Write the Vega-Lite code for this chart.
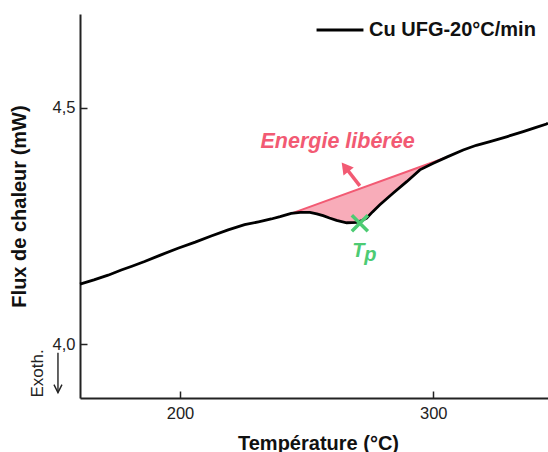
{
  "$schema": "https://vega.github.io/schema/vega-lite/v6.json",
  "autosize": {"type": "none"},
  "padding": {"left": 80, "top": 14, "right": 0, "bottom": 54},
  "width": 468,
  "height": 384,
  "config": {
    "font": "Liberation Sans",
    "view": {"stroke": null},
    "axis": {"grid": false, "domainColor": "#222", "domainWidth": 2, "tickColor": "#222", "tickWidth": 1.5, "labelColor": "#222", "titleColor": "#111"}
  },
  "datasets": {
    "curve": [
      {"T": 160.5, "Q": 4.127, "serie": "Cu UFG-20°C/min"},
      {"T": 166, "Q": 4.136, "serie": "Cu UFG-20°C/min"},
      {"T": 171.6, "Q": 4.146, "serie": "Cu UFG-20°C/min"},
      {"T": 176.8, "Q": 4.157, "serie": "Cu UFG-20°C/min"},
      {"T": 181, "Q": 4.165, "serie": "Cu UFG-20°C/min"},
      {"T": 186, "Q": 4.175, "serie": "Cu UFG-20°C/min"},
      {"T": 192, "Q": 4.188, "serie": "Cu UFG-20°C/min"},
      {"T": 199.2, "Q": 4.203, "serie": "Cu UFG-20°C/min"},
      {"T": 206, "Q": 4.216, "serie": "Cu UFG-20°C/min"},
      {"T": 212.3, "Q": 4.229, "serie": "Cu UFG-20°C/min"},
      {"T": 219, "Q": 4.242, "serie": "Cu UFG-20°C/min"},
      {"T": 225.5, "Q": 4.253, "serie": "Cu UFG-20°C/min"},
      {"T": 231, "Q": 4.259, "serie": "Cu UFG-20°C/min"},
      {"T": 236, "Q": 4.265, "serie": "Cu UFG-20°C/min"},
      {"T": 239.5, "Q": 4.27, "serie": "Cu UFG-20°C/min"},
      {"T": 243.9, "Q": 4.277, "serie": "Cu UFG-20°C/min"},
      {"T": 247.5, "Q": 4.279, "serie": "Cu UFG-20°C/min"},
      {"T": 251.3, "Q": 4.279, "serie": "Cu UFG-20°C/min"},
      {"T": 254, "Q": 4.276, "serie": "Cu UFG-20°C/min"},
      {"T": 256.5, "Q": 4.272, "serie": "Cu UFG-20°C/min"},
      {"T": 259, "Q": 4.267, "serie": "Cu UFG-20°C/min"},
      {"T": 261.8, "Q": 4.262, "serie": "Cu UFG-20°C/min"},
      {"T": 265.8, "Q": 4.257, "serie": "Cu UFG-20°C/min"},
      {"T": 269.7, "Q": 4.258, "serie": "Cu UFG-20°C/min"},
      {"T": 271.5, "Q": 4.261, "serie": "Cu UFG-20°C/min"},
      {"T": 273.7, "Q": 4.267, "serie": "Cu UFG-20°C/min"},
      {"T": 276, "Q": 4.28, "serie": "Cu UFG-20°C/min"},
      {"T": 278.9, "Q": 4.295, "serie": "Cu UFG-20°C/min"},
      {"T": 284.2, "Q": 4.32, "serie": "Cu UFG-20°C/min"},
      {"T": 289.5, "Q": 4.344, "serie": "Cu UFG-20°C/min"},
      {"T": 294.7, "Q": 4.369, "serie": "Cu UFG-20°C/min"},
      {"T": 300, "Q": 4.383, "serie": "Cu UFG-20°C/min"},
      {"T": 305.3, "Q": 4.396, "serie": "Cu UFG-20°C/min"},
      {"T": 311.8, "Q": 4.411, "serie": "Cu UFG-20°C/min"},
      {"T": 317, "Q": 4.421, "serie": "Cu UFG-20°C/min"},
      {"T": 322.4, "Q": 4.429, "serie": "Cu UFG-20°C/min"},
      {"T": 328.9, "Q": 4.439, "serie": "Cu UFG-20°C/min"},
      {"T": 335.5, "Q": 4.45, "serie": "Cu UFG-20°C/min"},
      {"T": 340, "Q": 4.458, "serie": "Cu UFG-20°C/min"},
      {"T": 344.7, "Q": 4.466, "serie": "Cu UFG-20°C/min"},
      {"T": 345.3, "Q": 4.468, "serie": "Cu UFG-20°C/min"}
    ],
    "zone": [
      {"T": 244.1, "Q": 4.277, "base": 4.277},
      {"T": 247.5, "Q": 4.279, "base": 4.2836},
      {"T": 251.3, "Q": 4.279, "base": 4.291},
      {"T": 254, "Q": 4.276, "base": 4.2962},
      {"T": 256.5, "Q": 4.272, "base": 4.301},
      {"T": 259, "Q": 4.267, "base": 4.3059},
      {"T": 261.8, "Q": 4.262, "base": 4.3113},
      {"T": 265.8, "Q": 4.257, "base": 4.319},
      {"T": 269.7, "Q": 4.258, "base": 4.3266},
      {"T": 271.5, "Q": 4.261, "base": 4.3301},
      {"T": 273.7, "Q": 4.267, "base": 4.3343},
      {"T": 276, "Q": 4.28, "base": 4.3388},
      {"T": 278.9, "Q": 4.295, "base": 4.3444},
      {"T": 284.2, "Q": 4.32, "base": 4.3547},
      {"T": 289.5, "Q": 4.344, "base": 4.3649},
      {"T": 294.7, "Q": 4.369, "base": 4.375},
      {"T": 300, "Q": 4.383, "base": 4.3853},
      {"T": 304.5, "Q": 4.394, "base": 4.394}
    ],
    "baseline": [
      {"T": 244.1, "Q": 4.277},
      {"T": 304.5, "Q": 4.394}
    ],
    "arrow": [
      {"T": 271.0, "Q": 4.335, "T2": 265.2, "Q2": 4.375}
    ],
    "exo": [
      {"T": 151.8, "Q": 3.982, "T2": 151.8, "Q2": 3.8975}
    ]
  },
  "layer": [
    {
      "data": {"name": "zone"},
      "mark": {"type": "area", "color": "#f25a73", "opacity": 0.5},
      "encoding": {
        "x": {"field": "T", "type": "quantitative"},
        "y": {"field": "Q", "type": "quantitative"},
        "y2": {"field": "base"}
      }
    },
    {
      "data": {"name": "baseline"},
      "mark": {"type": "line", "color": "#f25a73", "strokeWidth": 2},
      "encoding": {
        "x": {"field": "T", "type": "quantitative"},
        "y": {"field": "Q", "type": "quantitative"}
      }
    },
    {
      "data": {"name": "curve"},
      "mark": {"type": "line", "strokeWidth": 2.8},
      "encoding": {
        "x": {
          "field": "T", "type": "quantitative",
          "scale": {"domain": [160.5, 345.3], "nice": false, "zero": false},
          "axis": {
            "values": [200, 300], "tickSize": -7, "labelPadding": 14, "labelFontSize": 16.5,
            "title": "Température (°C)", "titleFontSize": 20, "titleFontWeight": "bold",
            "titleX": 238, "titleY": 51, "titleBaseline": "alphabetic", "titleAlign": "center"
          }
        },
        "y": {
          "field": "Q", "type": "quantitative",
          "scale": {"domain": [3.886, 4.699], "nice": false, "zero": false},
          "axis": {
            "values": [4.0, 4.5], "tickSize": -7, "labelPadding": 12, "labelFontSize": 16.5,
            "labelExpr": "replace(format(datum.value, '.1f'), '.', ',')",
            "title": "Flux de chaleur (mW)", "titleFontSize": 20, "titleFontWeight": "bold",
            "titleX": -61, "titleY": 192, "titleAngle": 270, "titleAlign": "center", "titleBaseline": "middle"
          }
        },
        "color": {
          "field": "serie", "type": "nominal",
          "scale": {"domain": ["Cu UFG-20°C/min"], "range": ["#000000"]},
          "legend": {
            "title": null, "orient": "none", "legendX": 235, "legendY": -9,
            "symbolType": "stroke", "symbolSize": 2200, "symbolStrokeWidth": 2.8,
            "labelFontSize": 20, "labelFontWeight": "bold", "labelColor": "#111",
            "labelOffset": 4, "labelLimit": 400, "padding": 0
          }
        }
      }
    },
    {
      "mark": {"type": "rule", "color": "#222", "strokeWidth": 2},
      "encoding": {"y": {"datum": 4.699}}
    },
    {
      "data": {"name": "arrow"},
      "mark": {"type": "rule", "color": "#f25a73", "strokeWidth": 3.5},
      "encoding": {
        "x": {"field": "T", "type": "quantitative"},
        "y": {"field": "Q", "type": "quantitative"},
        "x2": {"field": "T2"},
        "y2": {"field": "Q2"}
      }
    },
    {
      "data": {"name": "arrow"},
      "mark": {"type": "point", "shape": "triangle-up", "size": 169, "filled": true, "color": "#f25a73", "opacity": 1, "angle": 322},
      "encoding": {
        "x": {"field": "T2", "type": "quantitative"},
        "y": {"field": "Q2", "type": "quantitative"}
      }
    },
    {
      "data": {"values": [{"T": 262.2, "Q": 4.415, "label": "Energie libérée"}]},
      "mark": {"type": "text", "color": "#f25a73", "fontSize": 21.5, "fontWeight": "bold", "fontStyle": "italic", "align": "center", "baseline": "alphabetic"},
      "encoding": {
        "x": {"field": "T", "type": "quantitative"},
        "y": {"field": "Q", "type": "quantitative"},
        "text": {"field": "label"}
      }
    },
    {
      "data": {"values": [{"T": 271.0, "Q": 4.256}]},
      "mark": {"type": "point", "shape": "M-1,-1L1,1M1,-1L-1,1", "size": 256, "filled": false, "color": "#4dcb73", "strokeWidth": 3.5, "opacity": 1},
      "encoding": {
        "x": {"field": "T", "type": "quantitative"},
        "y": {"field": "Q", "type": "quantitative"}
      }
    },
    {
      "data": {"values": [{"T": 268.0, "Q": 4.184, "label": "T"}]},
      "mark": {"type": "text", "color": "#4dcb73", "fontSize": 20, "fontWeight": "bold", "fontStyle": "italic", "align": "left", "baseline": "alphabetic"},
      "encoding": {
        "x": {"field": "T", "type": "quantitative"},
        "y": {"field": "Q", "type": "quantitative"},
        "text": {"field": "label"}
      }
    },
    {
      "data": {"values": [{"T": 268.0, "Q": 4.184, "label": "p"}]},
      "mark": {"type": "text", "color": "#4dcb73", "fontSize": 20, "fontWeight": "bold", "fontStyle": "italic", "align": "left", "baseline": "alphabetic", "dx": 12, "dy": 4},
      "encoding": {
        "x": {"field": "T", "type": "quantitative"},
        "y": {"field": "Q", "type": "quantitative"},
        "text": {"field": "label"}
      }
    },
    {
      "data": {"values": [{"T": 143.9, "Q": 3.938, "label": "Exoth."}]},
      "mark": {"type": "text", "color": "#222", "fontSize": 17, "angle": 270, "align": "center", "baseline": "middle"},
      "encoding": {
        "x": {"field": "T", "type": "quantitative"},
        "y": {"field": "Q", "type": "quantitative"},
        "text": {"field": "label"}
      }
    },
    {
      "data": {"name": "exo"},
      "mark": {"type": "rule", "color": "#222", "strokeWidth": 1.4},
      "encoding": {
        "x": {"field": "T", "type": "quantitative"},
        "y": {"field": "Q", "type": "quantitative"},
        "x2": {"field": "T2"},
        "y2": {"field": "Q2"}
      }
    },
    {
      "data": {"name": "exo"},
      "mark": {"type": "point", "shape": "M-1,-2L0,0L1,-2", "size": 64, "filled": false, "color": "#222", "strokeWidth": 1.4, "opacity": 1},
      "encoding": {
        "x": {"field": "T2", "type": "quantitative"},
        "y": {"field": "Q2", "type": "quantitative"}
      }
    }
  ]
}
